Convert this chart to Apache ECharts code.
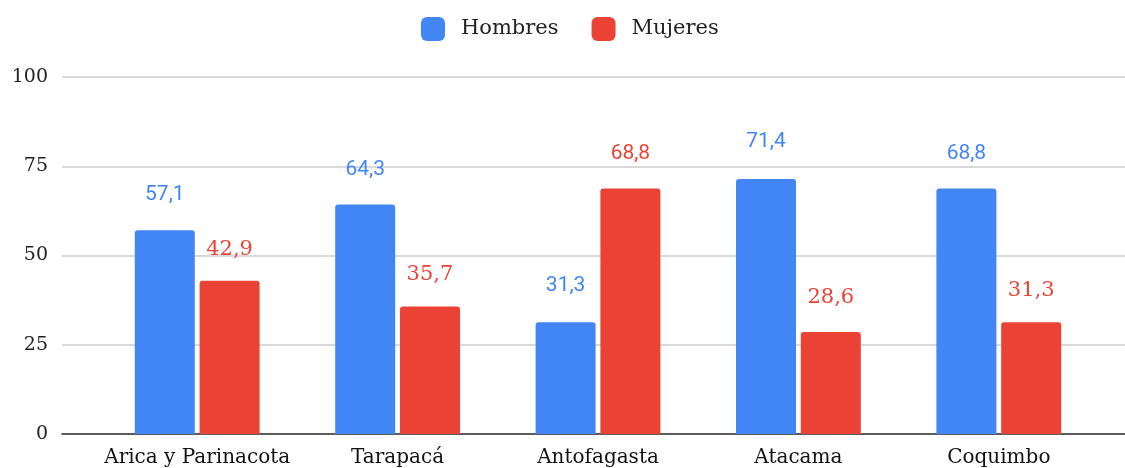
<!DOCTYPE html>
<html><head><meta charset="utf-8">
<script src="https://cdn.jsdelivr.net/npm/echarts@6/dist/echarts.min.js"></script>
<style>html,body{margin:0;padding:0;background:#fff}#c{width:1125px;height:468px}</style>
</head><body><div id="c"></div>
<script>
const categories = ['Arica y Parinacota','Tarapacá','Antofagasta','Atacama','Coquimbo'];
const hombres = [57.1, 64.3, 31.3, 71.4, 68.8];
const mujeres = [42.9, 35.7, 68.8, 28.6, 31.3];
const yTicks = [0, 25, 50, 75, 100];
const seriesNames = ['Hombres','Mujeres'];

const SERIF = "Georgia, 'DejaVu Serif', serif";
const SANS = "Roboto, 'Noto Sans', sans-serif";
const BLUE = '#4285F4', RED = '#EA4335';
const fmt = v => v.toFixed(1).replace('.', ',');

// label distances (pixels above bar top) and fonts, per item
const hDist = [25, 24, 26, 27, 24];
const mDist = [21, 22, 24, 24, 21];
const mFont = [SERIF, SERIF, SANS, SERIF, SERIF];

function items(vals, dists, fonts, color) {
  return vals.map((v, i) => ({
    value: v,
    label: { distance: dists[i], fontFamily: fonts ? fonts[i] : SANS, color: color }
  }));
}

const chart = echarts.init(document.getElementById('c'), null, {renderer: 'canvas'});
chart.setOption({
  animation: false,
  legend: {
    top: 12, left: 416,
    itemWidth: 24, itemHeight: 24, itemGap: 33,
    icon: 'roundRect',
    textStyle: { fontFamily: SERIF, fontSize: 21, color: '#222', padding: [0,0,0,11] },
    data: seriesNames
  },
  grid: [
    { left: 97, right: 26, top: 77, bottom: 34 },
    { left: 62, right: 0, top: 77, bottom: 34 }
  ],
  xAxis: [
    { type: 'category', gridIndex: 0, data: categories,
      axisLine: { show: false }, axisTick: { show: false },
      axisLabel: { interval: 0, fontFamily: SERIF, fontSize: 20, color: '#111', margin: 14 } },
    { type: 'category', gridIndex: 1, data: [''],
      axisLine: { show: true, lineStyle: { color: '#333', width: 1.5 } },
      axisTick: { show: false }, axisLabel: { show: false } }
  ],
  yAxis: [
    { type: 'value', gridIndex: 0, min: 0, max: 100, interval: 25, show: false, splitLine: { show: false } },
    { type: 'value', gridIndex: 1, min: yTicks[0], max: yTicks[yTicks.length-1], interval: 25,
      axisLine: { show: false }, axisTick: { show: false },
      axisLabel: { fontFamily: SERIF, fontSize: 19, color: '#222', margin: 14 },
      splitLine: { lineStyle: { color: '#cccccc', width: 1.5 } } }
  ],
  series: [
    { name: seriesNames[0], type: 'bar', xAxisIndex: 0, yAxisIndex: 0,
      barWidth: 60, barGap: '8%',
      itemStyle: { color: BLUE, borderRadius: [3,3,0,0] },
      label: { show: true, position: 'top', fontSize: 21, formatter: p => fmt(p.value) },
      data: items(hombres, hDist, null, BLUE) },
    { name: seriesNames[1], type: 'bar', xAxisIndex: 0, yAxisIndex: 0,
      barWidth: 60, barGap: '8%',
      itemStyle: { color: RED, borderRadius: [3,3,0,0] },
      label: { show: true, position: 'top', fontSize: 21, formatter: p => fmt(p.value) },
      data: items(mujeres, mDist, mFont, RED) }
  ]
});
</script></body></html>
